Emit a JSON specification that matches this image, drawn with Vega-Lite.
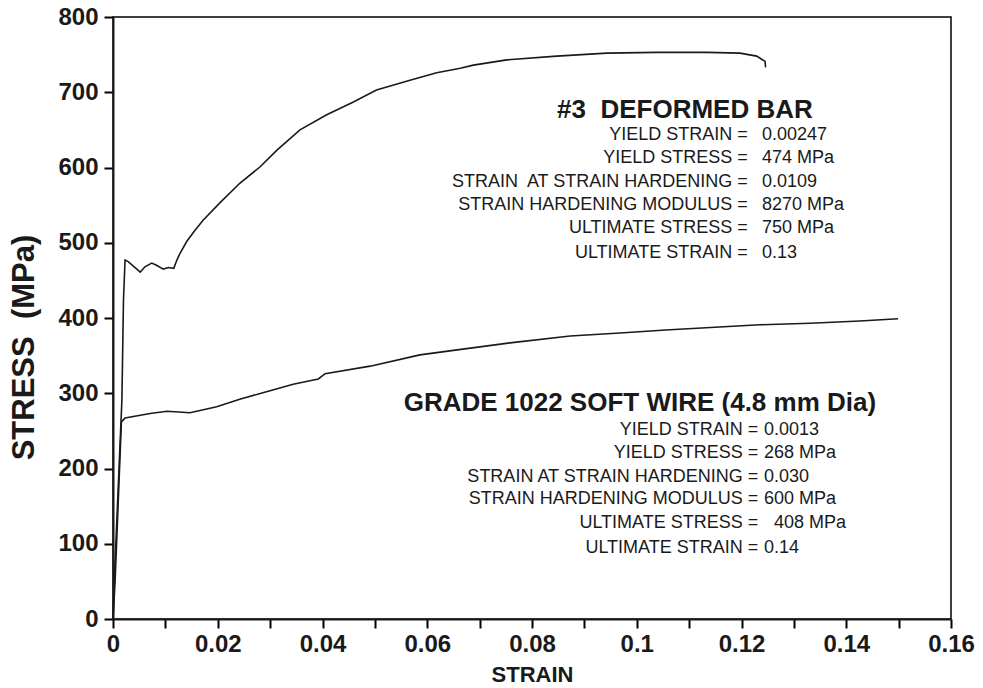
{
  "$schema": "https://vega.github.io/schema/vega-lite/v6.json",
  "width": 838,
  "height": 602,
  "autosize": {"type": "none"},
  "padding": {"left": 113, "top": 17, "right": 32, "bottom": 69},
  "background": "white",
  "config": {
    "view": {"stroke": "black", "strokeWidth": 1.5},
    "font": "Liberation Sans",
    "text": {"font": "Liberation Sans", "color": "#1a1a1a"}
  },
  "datasets": {
    "curves": [
      {"series": "#3 Deformed Bar", "strain": 0, "stress": 0},
      {"series": "#3 Deformed Bar", "strain": 0.0003, "stress": 60},
      {"series": "#3 Deformed Bar", "strain": 0.0017, "stress": 291},
      {"series": "#3 Deformed Bar", "strain": 0.002, "stress": 424},
      {"series": "#3 Deformed Bar", "strain": 0.0023, "stress": 477},
      {"series": "#3 Deformed Bar", "strain": 0.0029, "stress": 475},
      {"series": "#3 Deformed Bar", "strain": 0.0052, "stress": 461},
      {"series": "#3 Deformed Bar", "strain": 0.0061, "stress": 468},
      {"series": "#3 Deformed Bar", "strain": 0.0074, "stress": 473},
      {"series": "#3 Deformed Bar", "strain": 0.0083, "stress": 470},
      {"series": "#3 Deformed Bar", "strain": 0.0096, "stress": 465},
      {"series": "#3 Deformed Bar", "strain": 0.0106, "stress": 467},
      {"series": "#3 Deformed Bar", "strain": 0.0116, "stress": 466},
      {"series": "#3 Deformed Bar", "strain": 0.0122, "stress": 477},
      {"series": "#3 Deformed Bar", "strain": 0.0128, "stress": 486},
      {"series": "#3 Deformed Bar", "strain": 0.0141, "stress": 502},
      {"series": "#3 Deformed Bar", "strain": 0.0157, "stress": 517},
      {"series": "#3 Deformed Bar", "strain": 0.0172, "stress": 530},
      {"series": "#3 Deformed Bar", "strain": 0.0204, "stress": 553},
      {"series": "#3 Deformed Bar", "strain": 0.0242, "stress": 579},
      {"series": "#3 Deformed Bar", "strain": 0.0281, "stress": 601},
      {"series": "#3 Deformed Bar", "strain": 0.0313, "stress": 623},
      {"series": "#3 Deformed Bar", "strain": 0.0357, "stress": 650},
      {"series": "#3 Deformed Bar", "strain": 0.0408, "stress": 670},
      {"series": "#3 Deformed Bar", "strain": 0.0459, "stress": 687},
      {"series": "#3 Deformed Bar", "strain": 0.0503, "stress": 703},
      {"series": "#3 Deformed Bar", "strain": 0.0567, "stress": 716},
      {"series": "#3 Deformed Bar", "strain": 0.0618, "stress": 726},
      {"series": "#3 Deformed Bar", "strain": 0.0663, "stress": 732},
      {"series": "#3 Deformed Bar", "strain": 0.0688, "stress": 736},
      {"series": "#3 Deformed Bar", "strain": 0.0752, "stress": 743},
      {"series": "#3 Deformed Bar", "strain": 0.0847, "stress": 748},
      {"series": "#3 Deformed Bar", "strain": 0.0943, "stress": 752},
      {"series": "#3 Deformed Bar", "strain": 0.1038, "stress": 753},
      {"series": "#3 Deformed Bar", "strain": 0.1134, "stress": 753},
      {"series": "#3 Deformed Bar", "strain": 0.1197, "stress": 752},
      {"series": "#3 Deformed Bar", "strain": 0.1229, "stress": 748},
      {"series": "#3 Deformed Bar", "strain": 0.1245, "stress": 741},
      {"series": "#3 Deformed Bar", "strain": 0.1246, "stress": 733},
      {"series": "Grade 1022 Soft Wire", "strain": 0, "stress": 0},
      {"series": "Grade 1022 Soft Wire", "strain": 0.0004, "stress": 50},
      {"series": "Grade 1022 Soft Wire", "strain": 0.0016, "stress": 262},
      {"series": "Grade 1022 Soft Wire", "strain": 0.0023, "stress": 267},
      {"series": "Grade 1022 Soft Wire", "strain": 0.0071, "stress": 273},
      {"series": "Grade 1022 Soft Wire", "strain": 0.0103, "stress": 276},
      {"series": "Grade 1022 Soft Wire", "strain": 0.0147, "stress": 274},
      {"series": "Grade 1022 Soft Wire", "strain": 0.0198, "stress": 282},
      {"series": "Grade 1022 Soft Wire", "strain": 0.0242, "stress": 292},
      {"series": "Grade 1022 Soft Wire", "strain": 0.0293, "stress": 302},
      {"series": "Grade 1022 Soft Wire", "strain": 0.0344, "stress": 312},
      {"series": "Grade 1022 Soft Wire", "strain": 0.0392, "stress": 319},
      {"series": "Grade 1022 Soft Wire", "strain": 0.0405, "stress": 326},
      {"series": "Grade 1022 Soft Wire", "strain": 0.0491, "stress": 336},
      {"series": "Grade 1022 Soft Wire", "strain": 0.0586, "stress": 351},
      {"series": "Grade 1022 Soft Wire", "strain": 0.065, "stress": 357},
      {"series": "Grade 1022 Soft Wire", "strain": 0.0758, "stress": 367},
      {"series": "Grade 1022 Soft Wire", "strain": 0.0873, "stress": 376},
      {"series": "Grade 1022 Soft Wire", "strain": 0.0968, "stress": 380},
      {"series": "Grade 1022 Soft Wire", "strain": 0.1055, "stress": 384},
      {"series": "Grade 1022 Soft Wire", "strain": 0.1235, "stress": 391},
      {"series": "Grade 1022 Soft Wire", "strain": 0.1331, "stress": 393},
      {"series": "Grade 1022 Soft Wire", "strain": 0.1426, "stress": 396},
      {"series": "Grade 1022 Soft Wire", "strain": 0.1499, "stress": 399}
    ],
    "headers": [
      {"text": "#3\u00a0 DEFORMED BAR", "x": 0.1092, "y": 676},
      {"text": "GRADE 1022 SOFT WIRE (4.8 mm Dia)", "x": 0.1006, "y": 287}
    ],
    "props": [
      {"label": "YIELD STRAIN =", "value": "0.00247", "xl": 0.1212, "xv": 0.1239, "y": 643},
      {"label": "YIELD STRESS =", "value": "474 MPa", "xl": 0.1212, "xv": 0.1239, "y": 612.6},
      {"label": "STRAIN\u00a0 AT STRAIN HARDENING =", "value": "0.0109", "xl": 0.1212, "xv": 0.1239, "y": 580.7},
      {"label": "STRAIN HARDENING MODULUS =", "value": "8270 MPa", "xl": 0.1212, "xv": 0.1239, "y": 550.2},
      {"label": "ULTIMATE STRESS =", "value": "750 MPa", "xl": 0.1212, "xv": 0.1239, "y": 519.6},
      {"label": "ULTIMATE STRAIN =", "value": "0.13", "xl": 0.1212, "xv": 0.1239, "y": 486.4},
      {"label": "YIELD STRAIN =", "value": "0.0013", "xl": 0.1232, "xv": 0.1243, "y": 251.2},
      {"label": "YIELD STRESS =", "value": "268 MPa", "xl": 0.1232, "xv": 0.1243, "y": 220.6},
      {"label": "STRAIN AT STRAIN HARDENING =", "value": "0.030", "xl": 0.1232, "xv": 0.1243, "y": 188.7},
      {"label": "STRAIN HARDENING MODULUS =", "value": "600 MPa", "xl": 0.1232, "xv": 0.1243, "y": 159.5},
      {"label": "ULTIMATE STRESS =", "value": "408 MPa", "xl": 0.1232, "xv": 0.1262, "y": 127.6},
      {"label": "ULTIMATE STRAIN =", "value": "0.14", "xl": 0.1232, "xv": 0.1243, "y": 94.4}
    ]
  },
  "layer": [
    {
      "data": {"name": "curves"},
      "mark": {"type": "line", "color": "#1a1a1a", "strokeWidth": 1.6},
      "encoding": {
        "x": {
          "field": "strain", "type": "quantitative",
          "scale": {"domain": [0, 0.16], "nice": false, "zero": true},
          "axis": {
            "title": "STRAIN",
            "values": [0, 0.01, 0.02, 0.03, 0.04, 0.05, 0.06, 0.07, 0.08, 0.09, 0.1, 0.11, 0.12, 0.13, 0.14, 0.15, 0.16],
            "labelExpr": "round(datum.value * 100) % 2 == 0 ? format(datum.value, '~g') : ''",
            "grid": false, "ticks": true, "domainColor": "#1a1a1a", "domainWidth": 2,
            "tickColor": "black", "tickOpacity": 1, "tickWidth": 2, "tickSize": 9,
            "labelFont": "Liberation Sans", "labelFontSize": 24, "labelFontWeight": "bold", "labelColor": "#1a1a1a",
            "labelPadding": 4, "labelFlush": false, "labelOverlap": false, "labelBound": false,
            "titleFont": "Liberation Sans", "titleFontSize": 22, "titleFontWeight": "bold", "titleColor": "#1a1a1a",
            "titlePadding": 8
          }
        },
        "y": {
          "field": "stress", "type": "quantitative",
          "scale": {"domain": [0, 800], "nice": false},
          "axis": {
            "title": "STRESS\u00a0 (MPa)",
            "values": [0, 50, 100, 150, 200, 250, 300, 350, 400, 450, 500, 550, 600, 650, 700, 750, 800],
            "labelExpr": "datum.value % 100 == 0 ? format(datum.value, 'd') : ''",
            "grid": false, "ticks": true, "domainColor": "#1a1a1a", "domainWidth": 2,
            "tickColor": "black", "tickOpacity": 1, "tickWidth": 2, "tickSize": 9,
            "labelFont": "Liberation Sans", "labelFontSize": 24, "labelFontWeight": "bold", "labelColor": "#1a1a1a",
            "labelPadding": 6, "labelFlush": false, "labelOverlap": false, "labelBound": false,
            "titleFont": "Liberation Sans", "titleFontSize": 31, "titleFontWeight": "bold", "titleColor": "#1a1a1a",
            "titlePadding": 17, "titleY": 330
          }
        },
        "detail": {"field": "series", "type": "nominal"}
      }
    },
    {
      "data": {"name": "headers"},
      "mark": {"type": "text", "fontSize": 26, "fontWeight": "bold", "align": "center", "baseline": "middle"},
      "encoding": {
        "x": {"field": "x", "type": "quantitative"},
        "y": {"field": "y", "type": "quantitative"},
        "text": {"field": "text"}
      }
    },
    {
      "data": {"name": "props"},
      "mark": {"type": "text", "fontSize": 18, "align": "right", "baseline": "middle"},
      "encoding": {
        "x": {"field": "xl", "type": "quantitative"},
        "y": {"field": "y", "type": "quantitative"},
        "text": {"field": "label"}
      }
    },
    {
      "data": {"name": "props"},
      "mark": {"type": "text", "fontSize": 18, "align": "left", "baseline": "middle"},
      "encoding": {
        "x": {"field": "xv", "type": "quantitative"},
        "y": {"field": "y", "type": "quantitative"},
        "text": {"field": "value"}
      }
    }
  ]
}
